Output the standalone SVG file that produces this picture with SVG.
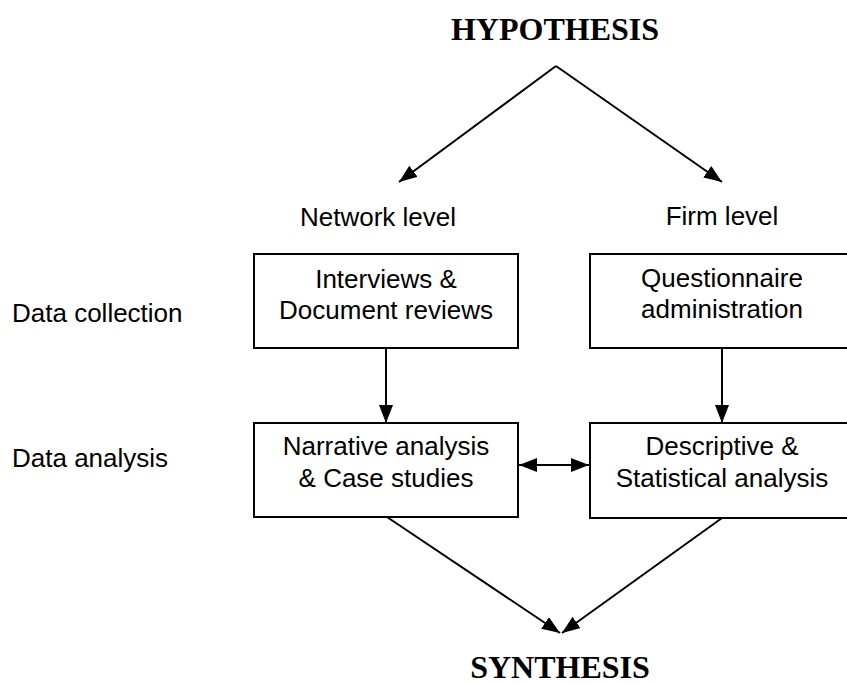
<svg xmlns="http://www.w3.org/2000/svg" width="847" height="684" viewBox="0 0 847 684">
<style>
.t{font-family:"Liberation Sans",Arial,sans-serif;font-size:26px;fill:#000}
.h{font-family:"Liberation Serif","Times New Roman",serif;font-size:32px;font-weight:bold;fill:#000}
.box{fill:#fff;stroke:#000;stroke-width:2}
.c{stroke:#000;stroke-width:2;fill:none}
</style>
<defs>
<marker id="ah" markerUnits="userSpaceOnUse" markerWidth="20" markerHeight="14" refX="18" refY="7" orient="auto-start-reverse">
<path d="M0,0 L18,7 L0,14 Z" fill="#000"/>
</marker>
</defs>
<rect width="847" height="684" fill="#fff"/>
<g id="hypothesis"><text class="h" x="555" y="40" text-anchor="middle">HYPOTHESIS</text></g>
<g id="synthesis"><text class="h" x="560" y="678" text-anchor="middle">SYNTHESIS</text></g>
<g id="network-level"><text class="t" x="378" y="226" text-anchor="middle">Network level</text></g>
<g id="firm-level"><text class="t" x="722" y="225" text-anchor="middle">Firm level</text></g>
<g id="data-collection"><text class="t" x="12" y="322">Data collection</text></g>
<g id="data-analysis"><text class="t" x="12" y="467">Data analysis</text></g>
<g id="interviews">
<rect class="box" x="254" y="254" width="264" height="94"/>
<text class="t" x="386" y="288" text-anchor="middle">Interviews &amp;</text>
<text class="t" x="386" y="319" text-anchor="middle">Document reviews</text>
</g>
<g id="questionnaire">
<rect class="box" x="590" y="254" width="266" height="94"/>
<text class="t" x="722" y="287" text-anchor="middle">Questionnaire</text>
<text class="t" x="722" y="318" text-anchor="middle">administration</text>
</g>
<g id="narrative">
<rect class="box" x="254" y="423" width="264" height="94"/>
<text class="t" x="386" y="455" text-anchor="middle">Narrative analysis</text>
<text class="t" x="386" y="487" text-anchor="middle">&amp; Case studies</text>
</g>
<g id="descriptive">
<rect class="box" x="590" y="423" width="266" height="95"/>
<text class="t" x="722" y="455" text-anchor="middle">Descriptive &amp;</text>
<text class="t" x="722" y="487" text-anchor="middle">Statistical analysis</text>
</g>
<g id="connectors">
<line class="c" x1="556" y1="66" x2="399" y2="182" marker-end="url(#ah)"/>
<line class="c" x1="556" y1="66" x2="722" y2="182" marker-end="url(#ah)"/>
<line class="c" x1="386" y1="348" x2="386" y2="423" marker-end="url(#ah)"/>
<line class="c" x1="722" y1="348" x2="722" y2="423" marker-end="url(#ah)"/>
<line class="c" x1="519" y1="465" x2="589" y2="465" marker-start="url(#ah)" marker-end="url(#ah)"/>
<line class="c" x1="387" y1="517" x2="560" y2="633" marker-end="url(#ah)"/>
<line class="c" x1="722" y1="518" x2="562" y2="633" marker-end="url(#ah)"/>
</g>
</svg>
